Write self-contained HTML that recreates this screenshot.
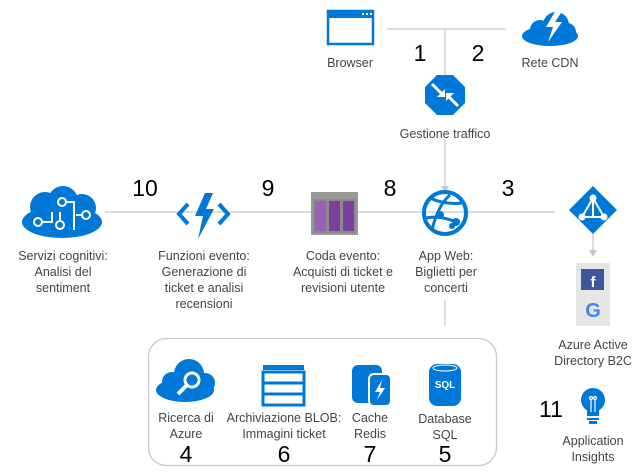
<!DOCTYPE html>
<html><head><meta charset="utf-8"><style>
html,body{margin:0;padding:0;background:#fff;}
svg{display:block;}
text{font-family:"Liberation Sans",sans-serif;}
.l{font-size:12.5px;fill:#444;text-anchor:middle;}
.n{font-size:23px;fill:#000;text-anchor:middle;}
</style></head><body>
<svg width="636" height="472" viewBox="0 0 636 472" xmlns="http://www.w3.org/2000/svg">
<g stroke="#c8c8c8" stroke-width="1.3" fill="none">
<line x1="387" y1="29" x2="506" y2="29"/>
<line x1="445" y1="29" x2="445" y2="76"/>
<line x1="445" y1="140" x2="445" y2="186"/>
<line x1="105" y1="212" x2="555" y2="212"/>
<line x1="445" y1="300" x2="445" y2="326"/>
<line x1="593" y1="232" x2="593" y2="250"/>
<rect x="148.5" y="338.5" width="348" height="127" rx="18"/>
</g>
<polygon points="441,186 449,186 445,193" fill="#c8c8c8"/>
<polygon points="589,250 597,250 593,257" fill="#c8c8c8"/>
<!-- browser -->
<rect x="328" y="11" width="45" height="33" fill="none" stroke="#0078d7" stroke-width="2.5"/>
<rect x="328" y="11" width="45" height="7" fill="#0078d7"/>
<g fill="#fff"><rect x="362" y="13" width="2" height="2"/><rect x="366" y="13" width="2" height="2"/><rect x="370" y="13" width="2" height="2"/></g>
<!-- cdn cloud -->
<g fill="#0078d7"><ellipse cx="550" cy="36" rx="28" ry="10"/><circle cx="540" cy="30" r="10"/><circle cx="556" cy="25" r="13"/><circle cx="567" cy="32" r="9"/></g>
<polygon points="556,10 546,27 553,27 548,42 562,22 555,22 563,10" fill="#fff"/>
<!-- traffic manager -->
<polygon points="437,75 453,75 465,87 465,103 453,115 437,115 425,103 425,87" fill="#0078d7"/>
<g stroke="#fff" stroke-width="3"><line x1="432" y1="84" x2="443" y2="95"/><line x1="458" y1="106" x2="447" y2="95"/></g>
<polygon points="445,97 437,97 445,89" fill="#fff"/><polygon points="446,93 454,93 446,101" fill="#fff"/>
<!-- web app globe -->
<circle cx="445" cy="213" r="21" fill="none" stroke="#0078d7" stroke-width="4"/>
<g stroke="#0078d7" stroke-width="3" fill="none"><path d="M430,198 Q445,205 462,203"/><path d="M426,218 Q440,215 456,222"/><path d="M432,230 Q438,205 450,195"/></g>
<g fill="#0078d7"><circle cx="456" cy="222" r="4"/><circle cx="440" cy="215" r="4"/><circle cx="452" cy="226" r="3"/></g>
<!-- aad diamond -->
<polygon points="593,186 617,210 593,234 569,210" fill="#0078d7"/>
<g stroke="#fff" stroke-width="2" fill="none"><polygon points="593,198 604,217 582,217"/><line x1="593" y1="198" x2="593" y2="217"/></g>
<g fill="#fff"><circle cx="593" cy="198" r="3.5"/><circle cx="582" cy="217" r="3.5"/><circle cx="604" cy="217" r="3.5"/></g>
<rect x="576" y="263" width="34" height="63" fill="#e6e6e6"/>
<rect x="581" y="269" width="23" height="21" fill="#3b5998"/>
<text x="593" y="287" font-size="15" font-weight="bold" fill="#fff" text-anchor="middle">f</text>
<text x="593" y="317" font-size="20" font-weight="bold" fill="#4285f4" text-anchor="middle">G</text>
<!-- cognitive brain -->
<g fill="#0078d7"><ellipse cx="62" cy="222" rx="40" ry="16"/><circle cx="45" cy="207" r="15"/><circle cx="63" cy="201" r="15"/><circle cx="82" cy="208" r="14"/></g>
<g stroke="#fff" stroke-width="2" fill="none"><circle cx="38" cy="222" r="4"/><circle cx="60" cy="225" r="4"/><circle cx="62" cy="202" r="4"/><circle cx="86" cy="215" r="4"/><path d="M42,222 H52 V212 M60,221 V212 M66,202 H74 V230 M82,215 H76"/></g>
<!-- functions -->
<g stroke="#0078d7" stroke-width="4" fill="none"><polyline points="188,204 179,214 188,224"/><polyline points="219,204 228,214 219,224"/></g>
<polygon points="205,193 195,216 203,216 198,239 214,209 206,209 213,193" fill="#0078d7"/>
<!-- queue -->
<rect x="311" y="192" width="47" height="43" fill="#999"/>
<rect x="313" y="199" width="43" height="34" fill="#8a8a8a"/>
<g fill="#7b3f9e"><rect x="315" y="201" width="11" height="30" fill="#9a5fb9"/><rect x="329" y="201" width="11" height="30"/><rect x="343" y="201" width="11" height="30"/></g>
<!-- search cloud -->
<g fill="#0078d7"><ellipse cx="185" cy="390" rx="29" ry="12"/><circle cx="172" cy="382" r="10"/><circle cx="189" cy="374" r="15"/><circle cx="205" cy="383" r="10"/></g>
<circle cx="192" cy="380" r="7" fill="none" stroke="#fff" stroke-width="3"/><line x1="187" y1="385" x2="178" y2="394" stroke="#fff" stroke-width="4"/>
<!-- blob -->
<rect x="263" y="365" width="41" height="5" fill="#0078d7"/>
<rect x="263" y="372" width="41" height="33" fill="none" stroke="#0078d7" stroke-width="3"/>
<g stroke="#0078d7" stroke-width="3"><line x1="263" y1="383" x2="304" y2="383"/><line x1="263" y1="394" x2="304" y2="394"/></g>
<!-- redis -->
<rect x="352" y="365" width="30" height="38" rx="6" fill="#0078d7"/>
<rect x="369" y="374" width="22" height="32" rx="5" fill="#0078d7" stroke="#fff" stroke-width="2"/>
<polygon points="382,380 375,392 380,392 377,400 385,388 380,388" fill="#fff"/>
<!-- sql -->
<rect x="429" y="364" width="32" height="42" rx="8" fill="#0078d7"/>
<ellipse cx="445" cy="368" rx="12" ry="3" fill="none" stroke="#fff" stroke-width="1"/>
<text x="445" y="388" font-size="10" font-weight="bold" fill="#fff" text-anchor="middle">SQL</text>
<!-- bulb -->
<circle cx="593" cy="400" r="12" fill="#0078d7"/><rect x="587" y="404" width="12" height="12" fill="#0078d7"/>
<rect x="587" y="418" width="12" height="2" fill="#0078d7"/><rect x="589" y="421" width="8" height="3" fill="#0078d7"/>
<g stroke="#fff" stroke-width="1.2" fill="none"><line x1="591" y1="400" x2="591" y2="412"/><line x1="595" y1="400" x2="595" y2="412"/><circle cx="591" cy="398" r="1.5"/><circle cx="595" cy="398" r="1.5"/></g>
<!-- labels -->
<text class="l" x="350" y="67">Browser</text>
<text class="l" x="550" y="67">Rete CDN</text>
<text class="l" x="445" y="138">Gestione traffico</text>
<text class="l"><tspan x="63" y="260">Servizi cognitivi:</tspan><tspan x="63" y="276">Analisi del</tspan><tspan x="63" y="292">sentiment</tspan></text>
<text class="l"><tspan x="204" y="260">Funzioni evento:</tspan><tspan x="204" y="276">Generazione di</tspan><tspan x="204" y="292">ticket e analisi</tspan><tspan x="204" y="308">recensioni</tspan></text>
<text class="l"><tspan x="343" y="260">Coda evento:</tspan><tspan x="343" y="276">Acquisti di ticket e</tspan><tspan x="343" y="292">revisioni utente</tspan></text>
<text class="l"><tspan x="446" y="260">App Web:</tspan><tspan x="446" y="276">Biglietti per</tspan><tspan x="446" y="292">concerti</tspan></text>
<text class="l"><tspan x="593" y="349">Azure Active</tspan><tspan x="593" y="365">Directory B2C</tspan></text>
<text class="l"><tspan x="186" y="422">Ricerca di</tspan><tspan x="186" y="438">Azure</tspan></text>
<text class="l"><tspan x="284" y="422">Archiviazione BLOB:</tspan><tspan x="284" y="438">Immagini ticket</tspan></text>
<text class="l"><tspan x="370" y="422">Cache</tspan><tspan x="370" y="438">Redis</tspan></text>
<text class="l"><tspan x="445" y="423">Database</tspan><tspan x="445" y="439">SQL</tspan></text>
<text class="l"><tspan x="593" y="445">Application</tspan><tspan x="593" y="461">Insights</tspan></text>
<text class="n" x="420" y="61">1</text>
<text class="n" x="478" y="61">2</text>
<text class="n" x="145" y="196">10</text>
<text class="n" x="268" y="196">9</text>
<text class="n" x="390" y="196">8</text>
<text class="n" x="508" y="196">3</text>
<text class="n" x="186" y="462">4</text>
<text class="n" x="284" y="462">6</text>
<text class="n" x="370" y="462">7</text>
<text class="n" x="445" y="462">5</text>
<text class="n" x="551" y="417">11</text>
</svg>
</body></html>
